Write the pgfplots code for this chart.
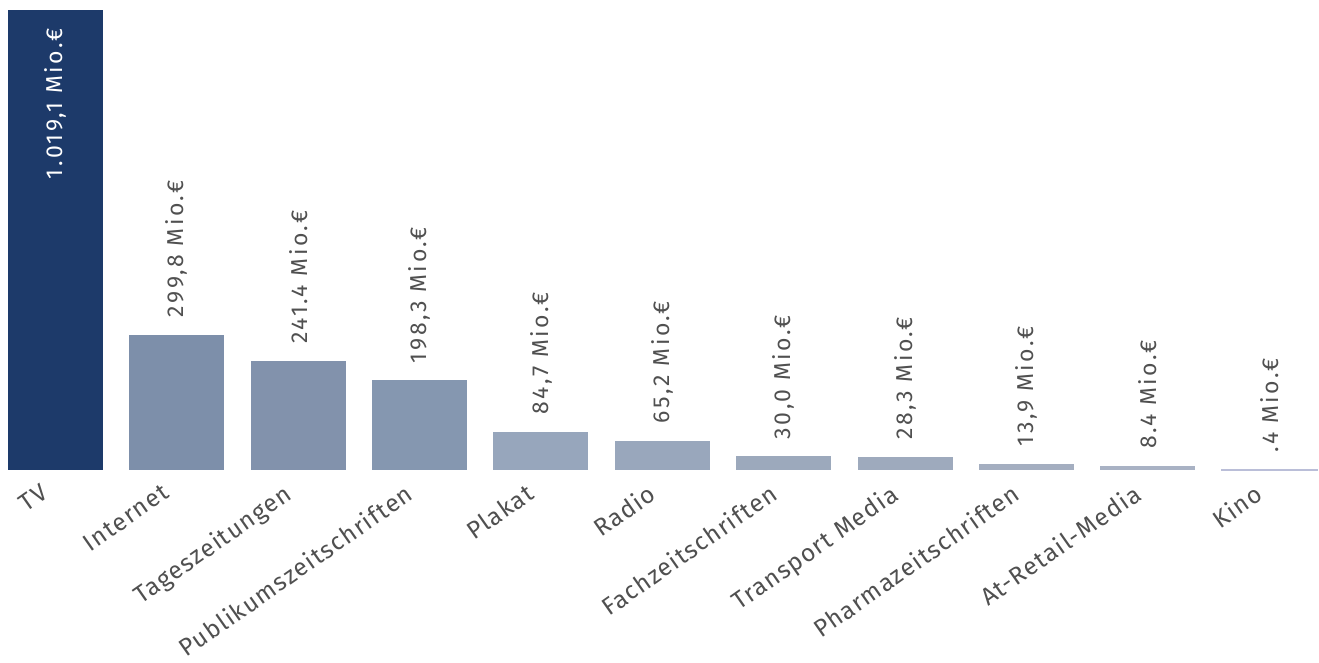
\documentclass[border=0pt]{standalone}
\usepackage{pgfplots}
\pgfplotsset{compat=1.18}
\usepackage{fontspec}
\setmainfont{Fira Sans}
\newfontfamily\vfont{Fira Sans}[LetterSpace=11]
\newfontfamily\tfont{Fira Sans}[LetterSpace=5]
\definecolor{cTV}{HTML}{1D3A6A}
\definecolor{cA}{HTML}{7D8FAA}
\definecolor{cB}{HTML}{8292AC}
\definecolor{cC}{HTML}{8597B0}
\definecolor{cD}{HTML}{97A6BC}
\definecolor{cE}{HTML}{99A7BC}
\definecolor{cF}{HTML}{9CA9BC}
\definecolor{cG}{HTML}{9EAABD}
\definecolor{cH}{HTML}{A4AEC0}
\definecolor{cI}{HTML}{A9B2C4}
\definecolor{cJ}{HTML}{BABED8}
\definecolor{labgray}{HTML}{505050}
\begin{document}
\begin{tikzpicture}
\begin{axis}[
  scale only axis, width=659.5pt, height=235pt,
  xmin=-0.457, xmax=10.41, ymin=0, ymax=1041.3,
  ybar, bar width=47.5pt, bar shift=0pt,
  clip=false,
  axis line style={draw=none},
  major tick length=0pt,
  ytick=\empty,
  xtick={0,1,2,3,4,5,6,7,8,9,10},
  xticklabels={TV,Internet,Tageszeitungen,Publikumszeitschriften,Plakat,Radio,Fachzeitschriften,Transport Media,Pharmazeitschriften,At-Retail-Media,Kino},
  xticklabel style={rotate=35, anchor=north east, inner sep=0pt, font=\tfont\fontsize{12.2}{14}\selectfont, text=labgray, xshift=-10pt, yshift=-0.5pt},
  every node near coord/.append style={rotate=90, anchor=west, inner xsep=8.5pt, inner ysep=0pt, font=\vfont\fontsize{11.5}{13}\selectfont, text=labgray},
]
\addplot[fill=cTV, draw=none, nodes near coords={1.019,1 Mio.€},
  every node near coord/.append style={anchor=east, inner xsep=9pt, text=white}] coordinates {(0,1019.1)};
\addplot[fill=cA, draw=none, nodes near coords={299,8 Mio.€}] coordinates {(1,299.8)};
\addplot[fill=cB, draw=none, nodes near coords={241.4 Mio.€}] coordinates {(2,241.4)};
\addplot[fill=cC, draw=none, nodes near coords={198,3 Mio.€}] coordinates {(3,198.3)};
\addplot[fill=cD, draw=none, nodes near coords={84,7 Mio.€}] coordinates {(4,84.7)};
\addplot[fill=cE, draw=none, nodes near coords={65,2 Mio.€}] coordinates {(5,65.2)};
\addplot[fill=cF, draw=none, nodes near coords={30,0 Mio.€}] coordinates {(6,30.0)};
\addplot[fill=cG, draw=none, nodes near coords={28,3 Mio.€}] coordinates {(7,28.3)};
\addplot[fill=cH, draw=none, nodes near coords={13,9 Mio.€}] coordinates {(8,13.9)};
\addplot[fill=cI, draw=none, nodes near coords={8.4 Mio.€}] coordinates {(9,8.4)};
\addplot[fill=cJ, draw=cJ, line width=0.8pt, nodes near coords={.4 Mio.€}] coordinates {(10,0.4)};
\end{axis}
\pgfresetboundingbox
\path[use as bounding box] (current axis.south west) ++(0,-96.5pt) rectangle (current axis.north east);
\end{tikzpicture}
\end{document}
